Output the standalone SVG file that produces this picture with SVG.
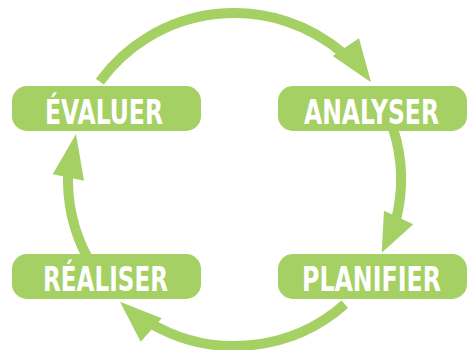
<svg xmlns="http://www.w3.org/2000/svg" width="474" height="350" viewBox="0 0 474 350">
  <style>
    .arc { fill: none; stroke: #A5D063; stroke-width: 10; stroke-linecap: butt; }
    .head { fill: #A5D063; }
    .box { fill: #A5D063; }
    .label { fill: #FFFFFF; font-family: "DejaVu Sans Condensed", "DejaVu Sans", sans-serif; font-weight: bold; font-size: 34px; text-anchor: middle; }
  </style>
  <rect width="474" height="350" fill="#FFFFFF"/>
  <g id="connectors">
    <path class="arc" d="M 99.8 81.6 A 166.5 166.5 0 0 1 343.7 53.8"/>
    <polygon class="head" points="371,82.3 332.7,56 359,38.3"/>
    <path class="arc" d="M 392.9 128.05 A 166.5 166.5 0 0 1 395.3 222.6"/>
    <polygon class="head" points="381.7,252.7 384,210.7 413.3,224.3"/>
    <path class="arc" d="M 344.8 304.2 A 166.5 166.5 0 0 1 148.75 322.2"/>
    <polygon class="head" points="120,301.7 161.7,318.3 140.7,341.7"/>
    <path class="arc" d="M 87.5 257.7 A 166.5 166.5 0 0 1 68.2 170.8"/>
    <polygon class="head" points="76,134 52.7,174.3 84,180.7"/>
  </g>
  <g id="evaluer">
    <rect class="box" x="12" y="86" width="189" height="45" rx="15" ry="15"/>
    <text class="label" x="104" y="124" textLength="118" lengthAdjust="spacingAndGlyphs">ÉVALUER</text>
  </g>
  <g id="analyser">
    <rect class="box" x="278" y="86" width="189" height="45" rx="15" ry="15"/>
    <text class="label" x="371.5" y="124" textLength="135" lengthAdjust="spacingAndGlyphs">ANALYSER</text>
  </g>
  <g id="realiser">
    <rect class="box" x="12" y="254" width="189" height="45" rx="15" ry="15"/>
    <text class="label" x="105.5" y="291" textLength="125" lengthAdjust="spacingAndGlyphs">RÉALISER</text>
  </g>
  <g id="planifier">
    <rect class="box" x="278" y="254" width="189" height="45" rx="15" ry="15"/>
    <text class="label" x="371.5" y="291" textLength="139" lengthAdjust="spacingAndGlyphs">PLANIFIER</text>
  </g>
</svg>
